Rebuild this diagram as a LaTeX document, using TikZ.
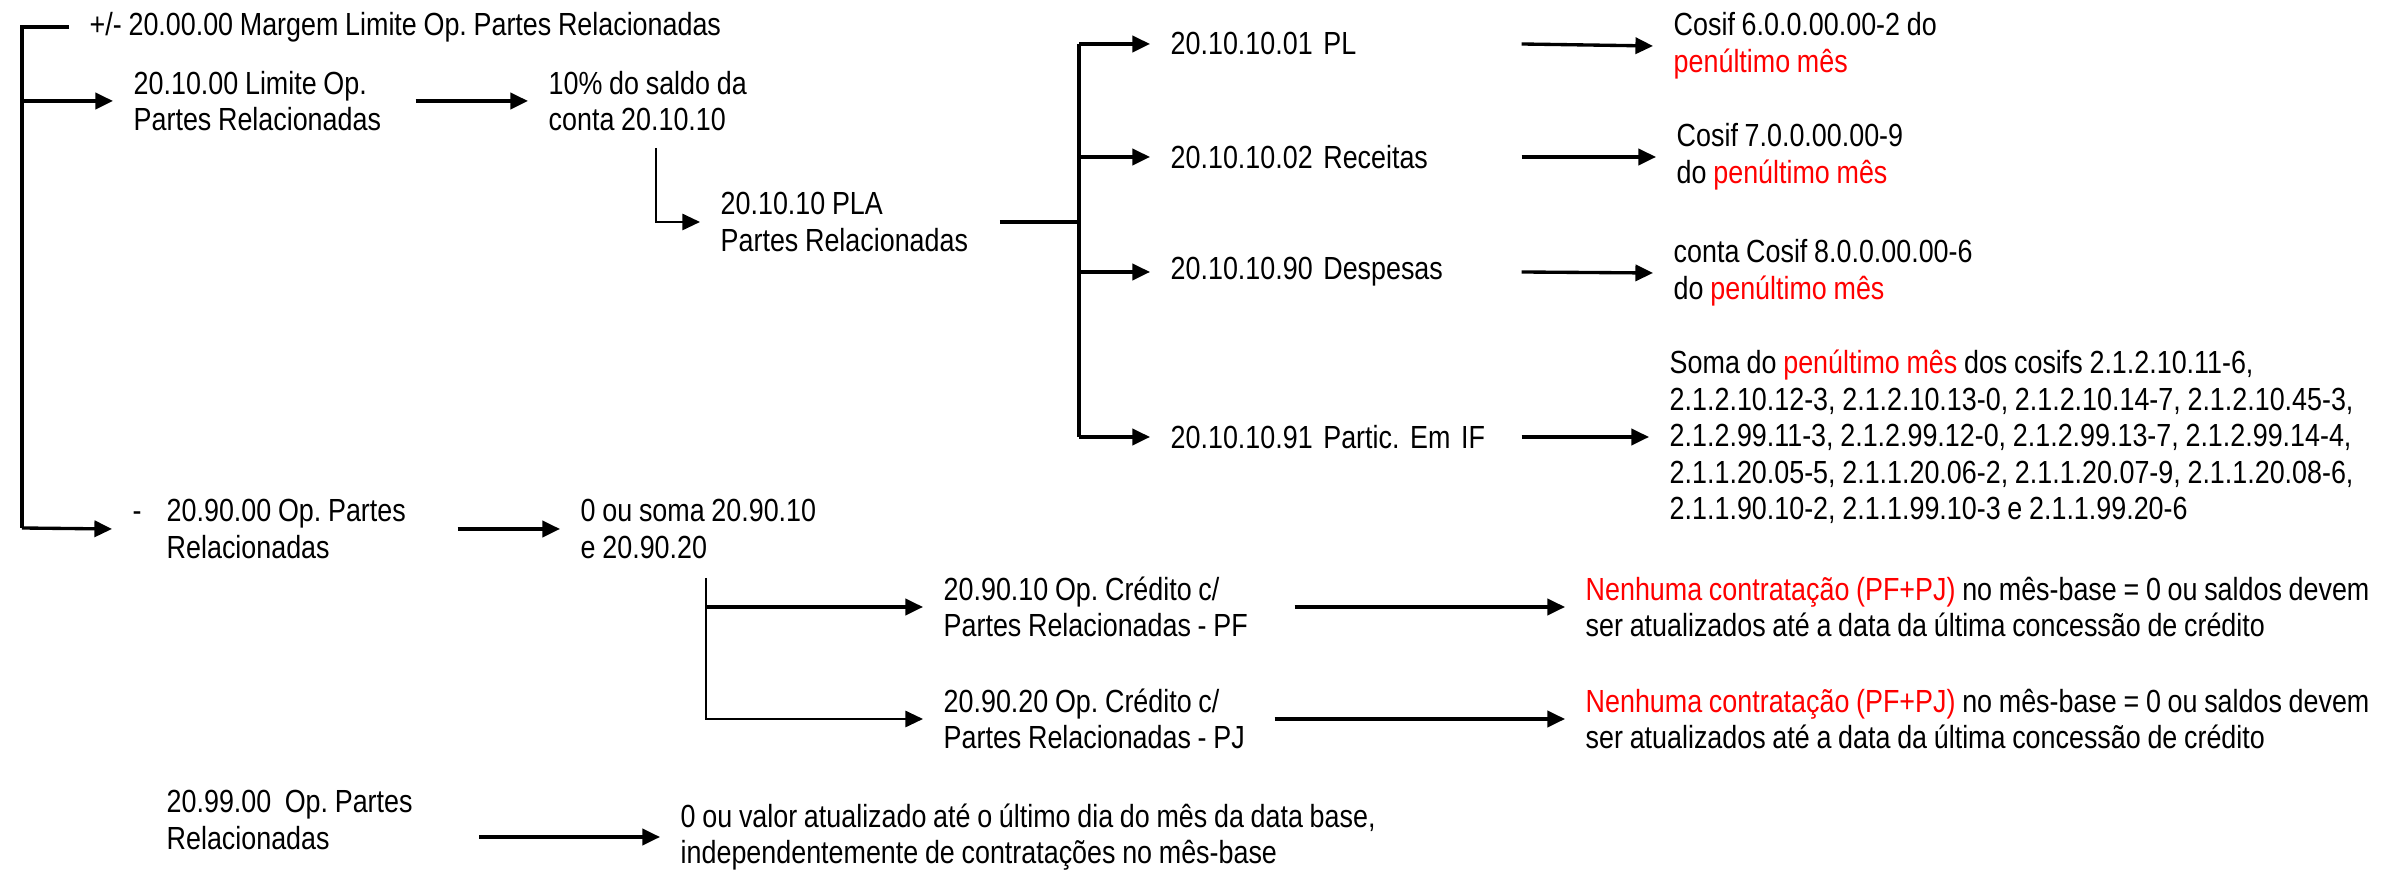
\documentclass[tikz,border=0pt]{standalone}
\usepackage{fontspec}
\setmainfont{Liberation Sans}[FakeStretch=0.84, WordSpace=0.9]
\usepackage{xcolor}
\usetikzlibrary{arrows.meta}

\newcommand{\vermelho}[1]{\textcolor{red}{#1}}
\frenchspacing

\begin{document}
\begin{tikzpicture}[x=0.01cm, y=-0.01cm,
    txt/.style={anchor=west, align=left, inner xsep=0.2cm, inner ysep=1pt,
        font={\fontsize{9.1}{10.4}\selectfont}},
    conta/.style={txt, text width=3.3cm},
    line/.style={line width=0.95pt},
    arr/.style={line, -{Triangle[length=5pt, width=4.6pt]}}]
    \useasboundingbox (0,0) rectangle (2407,871);

    % Margem
    \node[txt] (margem) at (69,27) {+/- 20.00.00 Margem Limite Op. Partes Relacionadas};
    \coordinate (tronco) at (22,528);
    \draw[line] (margem.west) -| (tronco);

    % Limite
    \node[txt] (limite) at (113,101) {20.10.00 Limite Op.\\Partes Relacionadas};
    \node[txt] (saldo) at (528,101) {10\% do saldo da\\conta 20.10.10};
    \draw[arr] (limite.west -| tronco) -- (limite.west);
    \draw[arr, shorten <=0.14cm] (limite.east) -- (saldo.west);

    % PLA
    \node[txt] (pla) at (700,222) {20.10.10 PLA\\Partes Relacionadas};
    \coordinate (desce1) at (656,148);
    \draw[arr, line width=0.6pt] (desce1) |- (pla.west);
    \coordinate (junta) at (1079,222);
    \draw[line width=1.4pt, shorten <=0.11cm] (pla.east) -- (junta);

    % Contas do PLA
    \node[conta] (pl) at (1150,44) {20.10.10.01 PL};
    \node[conta] (receitas) at (1150,157) {20.10.10.02 Receitas};
    \node[conta] (despesas) at (1150,272) {20.10.10.90 Despesas};
    \node[conta] (partic) at (1150,437) {20.10.10.91 Partic. Em IF};
    \draw[line] (pl.west -| junta) -- (partic.west -| junta);
    \draw[arr] (pl.west -| junta) -- (pl.west);
    \draw[arr] (receitas.west -| junta) -- (receitas.west);
    \draw[arr] (despesas.west -| junta) -- (despesas.west);
    \draw[arr] (partic.west -| junta) -- (partic.west);

    % Cosif
    \node[txt] (cosif6) at (1653,46) {Cosif 6.0.0.00.00-2 do\\\vermelho{penúltimo mês}};
    \node[txt] (cosif7) at (1656,157) {Cosif 7.0.0.00.00-9\\do \vermelho{penúltimo mês}};
    \node[txt] (cosif8) at (1653,273) {conta Cosif 8.0.0.00.00-6\\do \vermelho{penúltimo mês}};
    \node[txt] (soma) at (1649,437) {Soma do \vermelho{penúltimo mês} dos cosifs 2.1.2.10.11-6,\\
        2.1.2.10.12-3, 2.1.2.10.13-0, 2.1.2.10.14-7, 2.1.2.10.45-3,\\
        2.1.2.99.11-3, 2.1.2.99.12-0, 2.1.2.99.13-7, 2.1.2.99.14-4,\\
        2.1.1.20.05-5, 2.1.1.20.06-2, 2.1.1.20.07-9, 2.1.1.20.08-6,\\
        2.1.1.90.10-2, 2.1.1.99.10-3 e 2.1.1.99.20-6};
    \draw[arr] (pl.east) -- (cosif6.west);
    \draw[arr] (receitas.east) -- (cosif7.west);
    \draw[arr] (despesas.east) -- (cosif8.west);
    \draw[arr] (partic.east) -- (soma.west);

    % Op. Partes Relacionadas
    \node[txt] (op) at (112,529) {\makebox[0.34cm][l]{-}20.90.00 Op. Partes\\\hspace*{0.34cm}Relacionadas};
    \node[txt] (somaop) at (560,529) {0 ou soma 20.90.10\\e 20.90.20};
    \draw[arr] (tronco) -- (op.west);
    \draw[arr, shorten <=0.31cm] (op.east) -- (somaop.west);

    % Credito PF e PJ
    \node[txt] (pf) at (923,607) {20.90.10 Op. Crédito c/\\Partes Relacionadas - PF};
    \node[txt] (pj) at (923,719) {20.90.20 Op. Crédito c/\\Partes Relacionadas - PJ};
    \coordinate (desce2) at (706,578);
    \draw[arr, line width=0.6pt] (desce2) |- (pj.west);
    \draw[arr] (pf.west -| desce2) -- (pf.west);
    \node[txt] (nenhumapf) at (1565,607) {\vermelho{Nenhuma contratação (PF+PJ)} no mês-base = 0 ou saldos devem\\ser atualizados até a data da última concessão de crédito};
    \node[txt] (nenhumapj) at (1565,719) {\vermelho{Nenhuma contratação (PF+PJ)} no mês-base = 0 ou saldos devem\\ser atualizados até a data da última concessão de crédito};
    \draw[arr, shorten <=0.26cm] (pf.east) -- (nenhumapf.west);
    \draw[arr, shorten <=0.09cm] (pj.east) -- (nenhumapj.west);

    % 20.99.00
    \node[txt] (op99) at (146,820) {20.99.00\ \ Op. Partes\\Relacionadas};
    \node[txt] (ultimo) at (660,837) {0 ou valor atualizado até o último dia do mês da data base,\\independentemente de contratações no mês-base};
    \draw[arr, shorten <=0.46cm] (op99.east |- ultimo.west) -- (ultimo.west);
\end{tikzpicture}
\end{document}
